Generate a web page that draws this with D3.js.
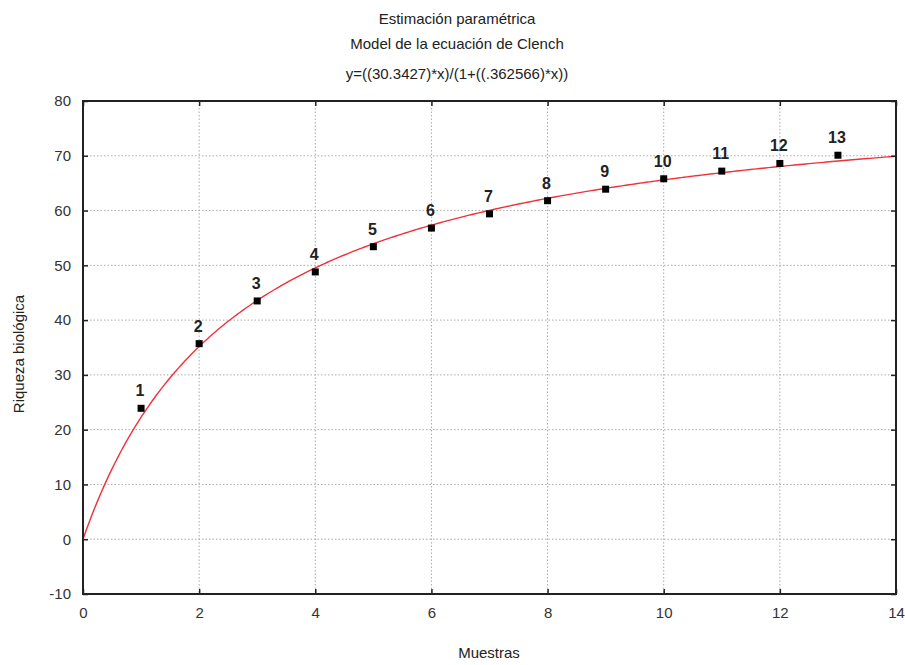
<!DOCTYPE html>
<html><head><meta charset="utf-8">
<script src="https://cdn.jsdelivr.net/npm/d3@7"></script>
<style>body{margin:0;background:#fff;} svg{display:block;font-family:"Liberation Sans",Arial,sans-serif;}</style>
</head><body>
<svg id="c" width="905" height="665"></svg>
<script>
const samples = [1,2,3,4,5,6,7,8,9,10,11,12,13];
const richness = [23.9,35.7,43.5,48.8,53.4,56.8,59.4,61.8,63.9,65.8,67.2,68.6,70.1];
const pointLabels = ["1","2","3","4","5","6","7","8","9","10","11","12","13"];
const modelA = 30.3427, modelB = 0.362566;
const xTicks = [0,2,4,6,8,10,12,14];
const yTicks = [-10,0,10,20,30,40,50,60,70,80];
const titles = ["Estimación paramétrica","Model de la ecuación de Clench","y=((30.3427)*x)/(1+((.362566)*x))"];

const svg = d3.select("#c");
const L=83,R=896,T=101,B=594;
const x = d3.scaleLinear().domain([0,14]).range([L,R]);
const y = d3.scaleLinear().domain([-10,80]).range([B,T]);

// grid
const g = svg.append("g");
g.selectAll(".gx").data(xTicks.filter(d=>d>0&&d<14)).join("line")
  .attr("x1",d=>x(d)).attr("x2",d=>x(d)).attr("y1",T).attr("y2",B)
  .attr("stroke","#aaa").attr("stroke-width",1).attr("stroke-dasharray","1.5,2");
g.selectAll(".gy").data(yTicks.filter(d=>d>-10&&d<80)).join("line")
  .attr("y1",d=>y(d)).attr("y2",d=>y(d)).attr("x1",L).attr("x2",R)
  .attr("stroke","#aaa").attr("stroke-width",1).attr("stroke-dasharray","1.5,2");

// curve
const curveXs = d3.range(0,14.0001,0.05);
svg.append("path").datum(curveXs)
  .attr("d",d3.line().x(d=>x(d)).y(d=>y(modelA*d/(1+modelB*d))))
  .attr("fill","none").attr("stroke","#f0303a").attr("stroke-width",1.4);

// axes with inward ticks
const ax = (axis,tr)=>svg.append("g").attr("transform",tr).call(axis)
  .call(s=>s.select(".domain").remove());
ax(d3.axisBottom(x).tickValues(xTicks).tickSize(-5).tickPadding(13).tickFormat(d=>String(d)),`translate(0,${B})`);
ax(d3.axisTop(x).tickValues(xTicks).tickSize(-5).tickFormat(""),`translate(0,${T})`);
ax(d3.axisLeft(y).tickValues(yTicks).tickSize(-5).tickPadding(12).tickFormat(d=>String(d)),`translate(${L},0)`);
ax(d3.axisRight(y).tickValues(yTicks).tickSize(-5).tickFormat(""),`translate(${R},0)`);
svg.selectAll(".tick line").attr("stroke","#222").attr("stroke-width",1.5);
svg.selectAll(".tick text").attr("font-size",15).attr("fill","#333")
  .attr("font-family","'Liberation Sans',Arial,sans-serif");

// frame
svg.append("rect").attr("x",L).attr("y",T).attr("width",R-L).attr("height",B-T)
  .attr("fill","none").attr("stroke","#222").attr("stroke-width",2);

// points
const pts = samples.map((s,i)=>({s,v:richness[i],l:pointLabels[i]}));
svg.selectAll(".pt").data(pts).join("rect")
  .attr("x",d=>x(d.s)-3.5).attr("y",d=>y(d.v)-3.5).attr("width",7).attr("height",7)
  .attr("fill","#000");
svg.selectAll(".pl").data(pts).join("text")
  .attr("x",d=>x(d.s)-1).attr("y",d=>y(d.v)-12)
  .attr("text-anchor","middle").attr("font-size",16).attr("font-weight","bold")
  .attr("fill","#222").text(d=>d.l);

// titles
svg.selectAll(".tt").data(titles).join("text")
  .attr("x",457).attr("y",(d,i)=>[24,49,79][i]).attr("text-anchor","middle")
  .attr("font-size",15).attr("fill","#222").text(d=>d);

svg.append("text").attr("x",489).attr("y",658).attr("text-anchor","middle")
  .attr("font-size",15).attr("fill","#222").text("Muestras");
svg.append("text").attr("transform","translate(24,354) rotate(-90)").attr("text-anchor","middle")
  .attr("font-size",15).attr("fill","#222").text("Riqueza biológica");
</script>
</body></html>
